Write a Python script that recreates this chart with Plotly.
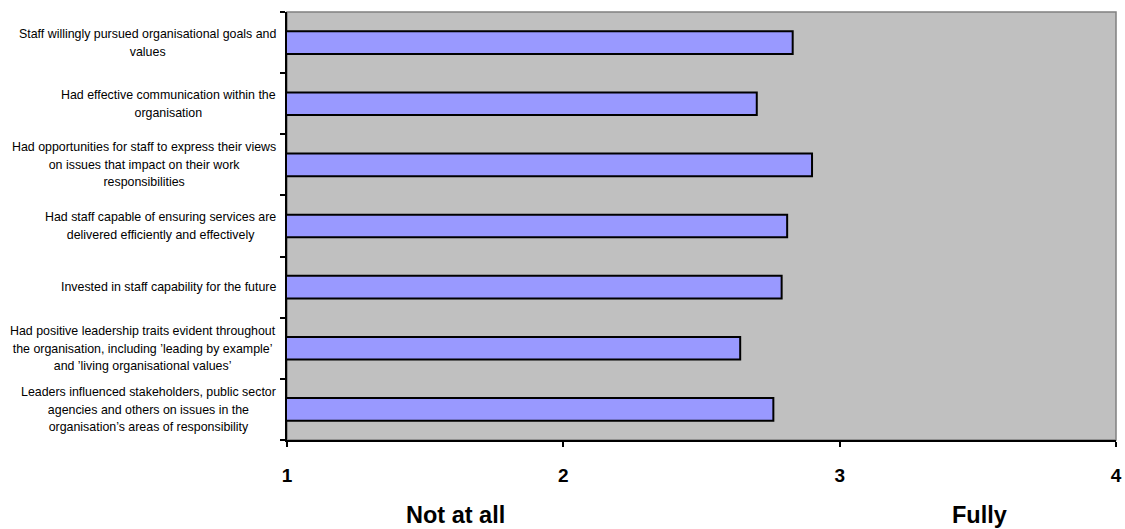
import plotly.graph_objects as go

# Survey statements (top to bottom) split into display lines
statements = [
    ["Staff willingly pursued organisational goals and", "values"],
    ["Had effective communication within the", "organisation"],
    ["Had opportunities for staff to express their views",
     "on issues that impact on their work", "responsibilities"],
    ["Had staff capable of ensuring services are",
     "delivered efficiently and effectively"],
    ["Invested in staff capability for the future"],
    ["Had positive leadership traits evident throughout",
     "the organisation, including \u2019leading by example\u2019",
     "and \u2019living organisational values\u2019"],
    ["Leaders influenced stakeholders, public sector",
     "agencies and others on issues in the",
     "organisation\u2019s areas of responsibility"],
]

# Mean rating on a 1 (not at all) to 4 (fully) scale
scores = [2.83, 2.70, 2.90, 2.81, 2.79, 2.64, 2.76]

scale_ticks = [1, 2, 3, 4]
scale_ends = ["Not at all", "Fully"]

FONT = "Arial, Liberation Sans, sans-serif"
positions = list(range(len(statements)))

fig = go.Figure()
fig.add_trace(go.Bar(
    x=scores,
    y=positions,
    orientation="h",
    width=0.37,
    marker=dict(color="#9999FF", line=dict(color="#000000", width=2)),
    hovertemplate="%{x:.2f}<extra></extra>",
))

annotations = []
for pos, lines in zip(positions, statements):
    text = "<br>".join(f'<span style="font-size:12.4px">{ln}</span>' for ln in lines)
    annotations.append(dict(
        xref="paper", x=0, xanchor="right", xshift=-9,
        yref="y", y=pos, yanchor="middle",
        text=text, align="center", showarrow=False,
        font=dict(family=FONT, size=13.5, color="#000000"),
    ))

annotations.append(dict(
    xref="paper", x=0.2027, yref="paper", y=-0.175,
    xanchor="center", yanchor="middle", showarrow=False,
    text=scale_ends[0],
    font=dict(family=FONT, size=23.5, color="#000000", weight="bold"),
))
annotations.append(dict(
    xref="paper", x=0.835, yref="paper", y=-0.175,
    xanchor="center", yanchor="middle", showarrow=False,
    text=scale_ends[1],
    font=dict(family=FONT, size=23.5, color="#000000", weight="bold"),
))

fig.update_layout(
    width=1125, height=529,
    margin=dict(l=287, r=9, t=12, b=89),
    paper_bgcolor="#FFFFFF",
    plot_bgcolor="#C0C0C0",
    showlegend=False,
    annotations=annotations,
    shapes=[dict(
        type="rect", xref="paper", yref="paper", x0=0, x1=1, y0=0, y1=1,
        line=dict(color="#808080", width=1.5), layer="below",
    )],
    xaxis=dict(
        range=[1, 4], tickvals=scale_ticks, ticktext=[str(t) for t in scale_ticks],
        ticks="outside", ticklen=5, tickwidth=2, tickcolor="#000000",
        showline=True, linecolor="#000000", linewidth=2,
        showgrid=False, zeroline=False, automargin=False,
        ticklabeloverflow="allow",
        tickfont=dict(family=FONT, size=19, color="#000000", weight="bold"),
        ticklabelstandoff=12,
    ),
    yaxis=dict(
        range=[len(statements) - 0.5, -0.5],
        tickvals=[p - 0.5 for p in positions] + [len(statements) - 0.5],
        showticklabels=False, automargin=False,
        ticks="outside", ticklen=5, tickwidth=2, tickcolor="#000000",
        showline=True, linecolor="#000000", linewidth=2,
        showgrid=False, zeroline=False,
    ),
)

fig.write_html("out.html")
